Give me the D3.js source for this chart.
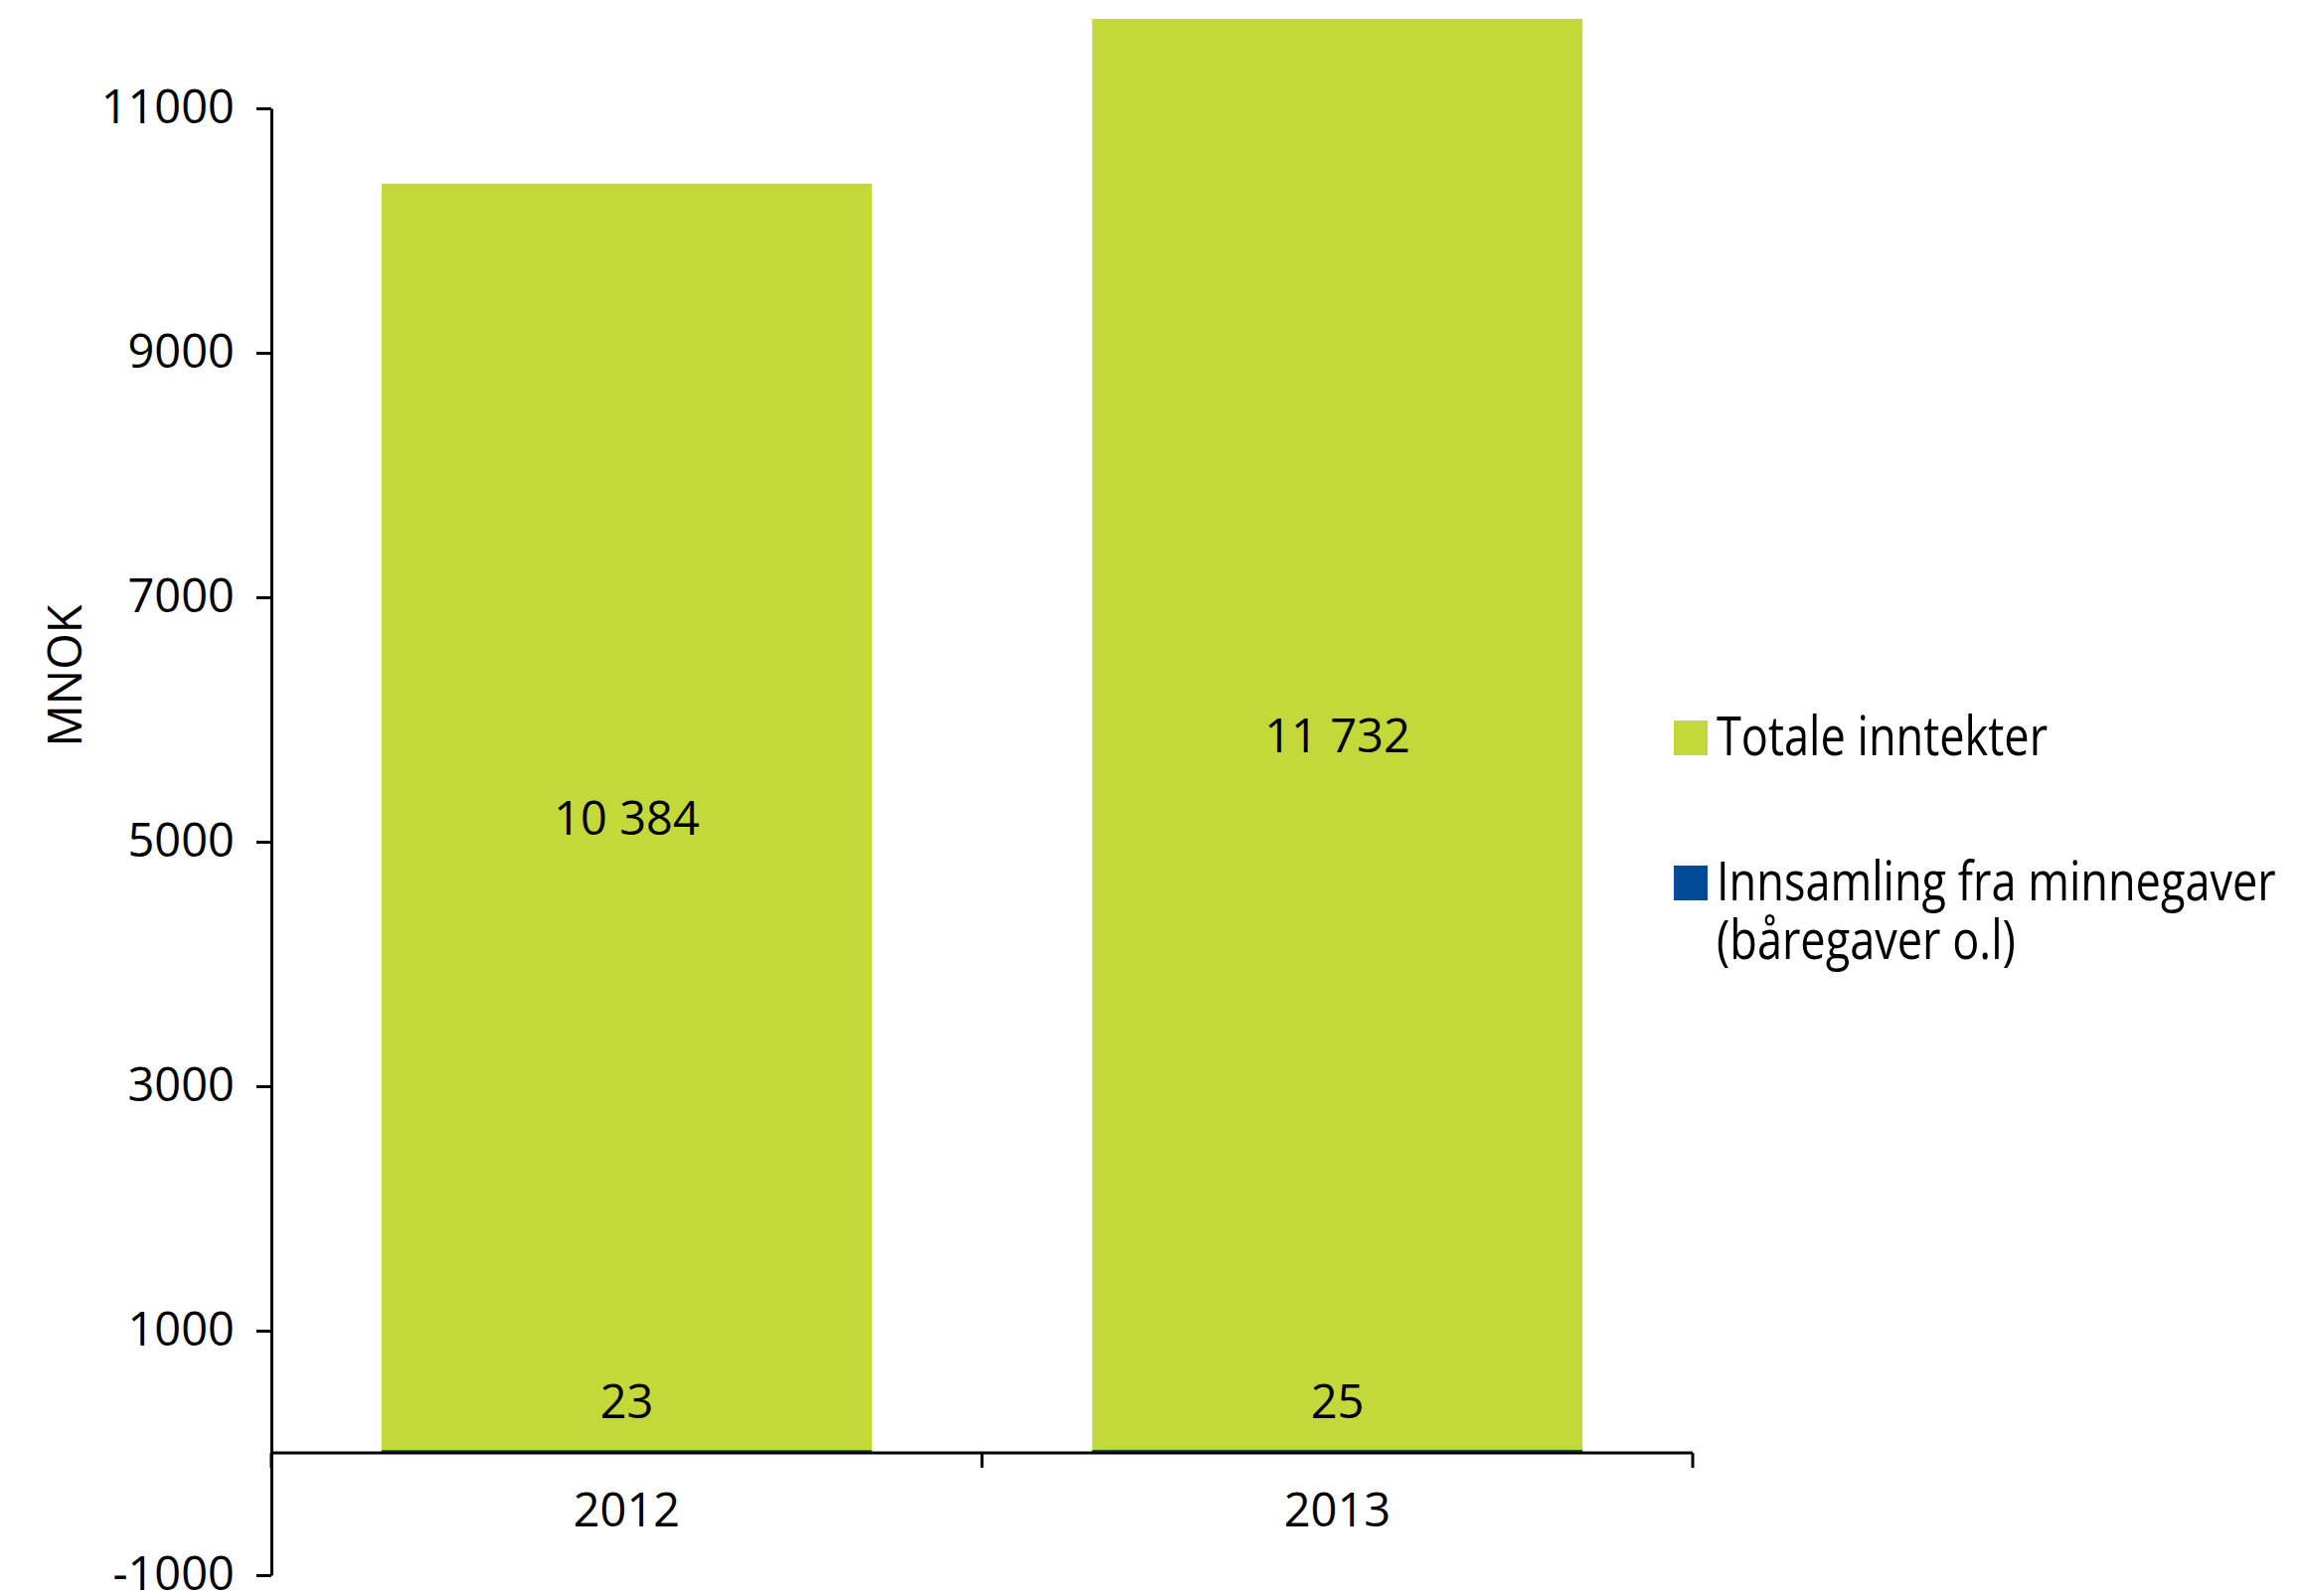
<!DOCTYPE html>
<html><head><meta charset="utf-8">
<script src="https://cdn.jsdelivr.net/npm/d3@7"></script>
<style>
body{margin:0;background:#fff}
svg{display:block}
text{font-family:"Open Sans",sans-serif;fill:#000}
</style>
</head><body>
<svg id="c" width="2315" height="1606"></svg>
<script>
// ---- data ----
const categories = ["2012", "2013"];
const totalIncome = [10384, 11732];
const memorialGifts = [23, 25];
const totalLabels = ["10 384", "11 732"];
const memorialLabels = ["23", "25"];
const yTicks = [-1000, 1000, 3000, 5000, 7000, 9000, 11000];
const seriesNames = [["Totale inntekter"], ["Innsamling fra minnegaver", "(båregaver o.l)"]];
const seriesColors = ["#C3D939", "#004B93"];
const yTitle = "MNOK";

// ---- layout ----
const svg = d3.select("#c");
const x = d3.scaleBand().domain(categories).range([273, 1703]).paddingInner(0.31).paddingOuter(0.155);
const y = d3.scaleLinear().domain([-1000, 11000]).range([1585, 109]);
const FS = 47;

// bars: total (green), then memorial gifts (blue) in front
svg.append("g").selectAll("rect").data(categories).join("rect")
  .attr("x", c => x(c)).attr("width", x.bandwidth())
  .attr("y", (c, i) => y(totalIncome[i]))
  .attr("height", (c, i) => y(0) - y(totalIncome[i]))
  .attr("fill", seriesColors[0]);
svg.append("g").selectAll("rect").data(categories).join("rect")
  .attr("x", c => x(c)).attr("width", x.bandwidth())
  .attr("y", (c, i) => y(memorialGifts[i]))
  .attr("height", (c, i) => y(0) - y(memorialGifts[i]))
  .attr("fill", seriesColors[1]);

// data labels
svg.append("g").selectAll("text").data(categories).join("text")
  .attr("x", c => x(c) + x.bandwidth() / 2)
  .attr("y", (c, i) => (y(0) + y(totalIncome[i])) / 2)
  .attr("dy", "0.35em").attr("text-anchor", "middle").attr("font-size", FS)
  .text((c, i) => totalLabels[i]);
svg.append("g").selectAll("text").data(categories).join("text")
  .attr("x", c => x(c) + x.bandwidth() / 2)
  .attr("y", (c, i) => y(memorialGifts[i]) - 32)
  .attr("text-anchor", "middle").attr("font-size", FS)
  .text((c, i) => memorialLabels[i]);

// y axis
const yAxis = svg.append("g").attr("transform", `translate(${x.range()[0]},0)`)
  .call(d3.axisLeft(y).tickValues(yTicks).tickSize(15).tickSizeOuter(0).tickPadding(22).tickFormat(d => String(d)));
yAxis.select(".domain").attr("stroke", "#000").attr("stroke-width", 3);
yAxis.selectAll(".tick line").attr("stroke", "#000").attr("stroke-width", 3);
yAxis.selectAll(".tick text").attr("font-size", FS).attr("font-family", "Open Sans").attr("fill", "#000").attr("dy", "0.3em");

// x axis (line at zero, ticks at category boundaries)
const r = x.range();
const gx = svg.append("g");
gx.append("line").attr("x1", r[0]).attr("x2", r[1]).attr("y1", y(0)).attr("y2", y(0))
  .attr("stroke", "#000").attr("stroke-width", 3);
const bounds = d3.range(categories.length + 1).map(i => r[0] + i * x.step());
gx.selectAll("line.t").data(bounds).join("line").attr("class", "t")
  .attr("x1", d => d).attr("x2", d => d).attr("y1", y(0)).attr("y2", y(0) + 15)
  .attr("stroke", "#000").attr("stroke-width", 3);
gx.selectAll("text").data(categories).join("text")
  .attr("x", c => x(c) + x.bandwidth() / 2).attr("y", y(0) + 74)
  .attr("text-anchor", "middle").attr("font-size", FS).text(c => c);

// y title
svg.append("text").attr("transform", "translate(82,680) rotate(-90)")
  .attr("text-anchor", "middle").attr("font-size", FS).text(yTitle);

// legend
const legY = [725, 871];
const lg = svg.append("g");
seriesNames.forEach((lines, i) => {
  lg.append("rect").attr("x", 1684).attr("y", legY[i]).attr("width", 34).attr("height", 35).attr("fill", seriesColors[i]);
  lines.forEach((t, j) => {
    lg.append("text").attr("transform", `translate(1727,${legY[i] + 35 + j * 59}) scale(0.82,1)`)
      .attr("font-size", 55).text(t);
  });
});
</script>
</body></html>
